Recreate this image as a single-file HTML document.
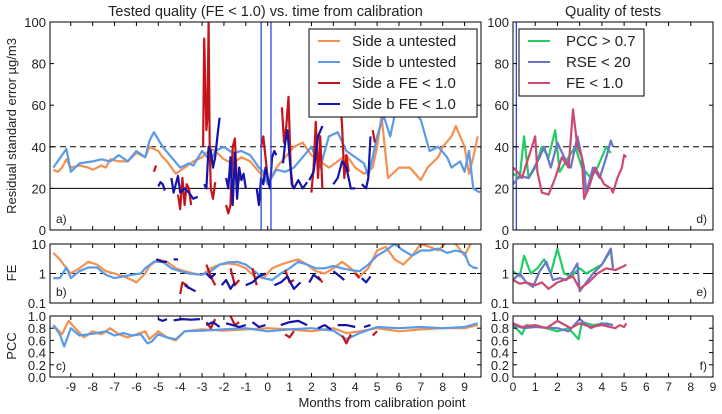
<!DOCTYPE html>
<html><head><meta charset="utf-8">
<style>
html,body{margin:0;padding:0;background:#fff;}
svg{display:block;font-family:"Liberation Sans","DejaVu Sans",sans-serif;}
</style></head>
<body>
<svg id="chart" width="722" height="414" viewBox="0 0 722 414"></svg>
<script>
// ---------- data ----------
const orangeRSEx=[-9.8,-9.6,-9.4,-9.2,-9.0,-8.6,-8.2,-8.0,-7.6,-7.4,-7.2,-6.8,-6.4,-6.0,-5.6,-5.4,-5.0,-4.8,-4.6,-4.2,-3.8,-3.4,-3.0,-2.6,-2.4,-2.0,-1.6,-1.2,-0.8,-0.4,-0.2,0.0,0.4,0.8,1.2,1.6,2.0,2.4,2.8,3.2,3.6,4.0,4.4,4.8,5.0,5.2,5.5,6.0,6.5,7.0,7.3,7.8,8.0,8.4,8.6,9.0,9.2,9.4,9.6];
const orangeRSE=[29,28,30,34,30,31,30,29,31,30,34,33,33,37,35,40,38,35,33,27,30,33,35,39,38,34,32,35,33,28,26,22,30,35,40,42,36,33,30,33,36,30,27,30,40,55,25,30,30,24,30,35,40,45,50,40,27,35,45];
const blueRSEx=[-9.8,-9.4,-9.2,-9.0,-8.6,-8.0,-7.6,-7.2,-6.8,-6.4,-6.0,-5.6,-5.4,-5.2,-4.8,-4.4,-4.0,-3.6,-3.4,-3.0,-2.6,-2.4,-2.0,-1.6,-1.2,-0.8,-0.4,-0.2,0.0,0.4,0.8,1.2,1.6,2.0,2.4,2.8,3.2,3.6,4.0,4.4,4.6,4.8,5.0,5.3,5.6,5.9,6.2,6.6,7.0,7.4,7.8,8.2,8.4,8.8,9.0,9.2,9.4,9.7];
const blueRSE=[30,36,39,28,32,33,34,33,36,33,38,35,43,47,40,35,30,32,31,38,33,38,40,37,38,36,30,28,22,29,28,30,35,40,30,45,47,38,35,32,26,35,45,55,45,60,55,58,53,38,40,35,30,33,28,38,20,18];
const redRSE=[
 [[-5.2,28],[-5.1,31]],
 [[-4.1,17],[-4.0,10],[-3.9,25],[-3.8,12],[-3.7,22],[-3.6,20],[-3.5,12]],
 [[-2.95,40],[-2.9,92],[-2.8,48],[-2.75,55],[-2.7,100],[-2.65,40],[-2.6,20],[-2.5,15],[-2.4,23]],
 [[-1.9,12],[-1.8,8],[-1.7,12],[-1.6,40],[-1.5,44],[-1.4,20],[-1.3,25]],
 [[-0.3,40],[-0.2,45],[-0.1,35],[0,25]],
 [[0.65,59],[0.75,42],[0.85,50],[0.95,64],[1.05,30],[1.15,20]],
 [[2.0,18],[2.1,30],[2.2,52],[2.3,25],[2.4,45],[2.5,20]],
 [[3.3,65],[3.4,50],[3.5,25],[3.6,36],[3.7,28]],
 [[4.8,48],[4.9,42]]];
const navyRSE=[
 [[-5.0,21],[-4.9,23],[-4.8,22],[-4.7,19]],
 [[-4.4,25],[-4.3,18],[-4.2,22],[-4.1,26],[-4.0,18],[-3.8,20],[-3.6,18],[-3.4,15],[-3.2,16]],
 [[-2.9,22],[-2.8,20],[-2.7,40],[-2.6,38],[-2.5,30],[-2.4,35],[-2.3,45],[-2.2,54]],
 [[-1.9,25],[-1.8,20],[-1.7,35],[-1.6,12],[-1.5,37],[-1.4,15],[-1.3,30],[-1.2,24],[-1.1,27],[-1.0,20]],
 [[-0.5,20],[-0.4,12],[-0.3,25],[-0.2,22],[-0.1,30],[0.1,20],[0.2,35],[0.3,38],[0.4,36]],
 [[0.7,32],[0.8,42],[0.9,48],[1.0,35],[1.1,22],[1.2,20],[1.4,24],[1.6,20],[1.8,23]],
 [[1.9,24],[2.1,28],[2.3,45],[2.5,50]],
 [[3.0,22],[3.2,25],[3.4,33],[3.6,30],[3.8,20],[4.0,20]],
 [[4.3,22],[4.5,20],[4.6,25],[4.7,45]]];
const orangeFEx=[-9.8,-9.5,-9.2,-9.0,-8.6,-8.2,-7.8,-7.4,-7.0,-6.6,-6.2,-6.0,-5.6,-5.4,-5.0,-4.6,-4.2,-3.8,-3.4,-3.0,-2.6,-2.2,-1.8,-1.4,-1.0,-0.6,-0.2,0.2,0.6,1.0,1.4,1.8,2.2,2.6,3.0,3.4,3.8,4.2,4.6,4.8,5.0,5.4,5.8,6.2,6.6,7.0,7.4,7.8,8.2,8.6,9.0,9.2,9.4];
const orangeFE=[5,3,1.5,1.0,1.5,2.5,2.0,1.2,1.0,0.8,0.6,0.5,1.0,1.8,3.0,2.5,1.5,1.2,1.0,0.9,1.5,2.0,2.2,2.0,1.5,0.8,0.7,1.5,2.0,2.5,3.0,2.0,1.2,1.0,1.5,2.5,1.5,0.8,1.5,3.0,6,8,3,2,4,10,8,6,12,10,4,8,15];
const blueFEx=[-9.8,-9.5,-9.2,-9.0,-8.6,-8.2,-7.8,-7.4,-7.0,-6.6,-6.2,-5.8,-5.6,-5.2,-4.8,-4.4,-4.0,-3.6,-3.0,-2.6,-2.2,-1.8,-1.4,-1.0,-0.6,-0.2,0.2,0.6,1.0,1.4,1.8,2.2,2.6,3.0,3.4,3.8,4.2,4.6,5.0,5.4,5.8,6.2,6.6,7.0,7.4,7.8,8.2,8.6,9.0,9.2,9.4,9.6];
const blueFE=[0.7,0.7,1.6,0.7,1.2,1.6,1.6,0.9,0.7,0.8,0.9,1.0,1.5,2.5,2.5,1.5,1.2,1.0,0.9,1.2,2.0,2.4,2.5,2.0,1.2,0.7,0.6,1.0,1.5,2.5,2.0,1.5,1.5,1.8,1.5,1.3,1.2,2.0,4,6,10,6,4,6,6,7,5,6,5,2,1.6,1.5];
const redFE=[
 [[-4.0,0.2],[-3.9,0.5],[-3.7,0.4],[-3.6,0.3]],
 [[-2.8,2.0],[-2.6,0.8],[-2.4,0.4]],
 [[-1.7,1.5],[-1.5,0.4],[-1.3,0.6]],
 [[-0.7,1.5],[-0.5,0.4]],
 [[0.8,1.3],[1.0,0.5],[1.2,0.6]],
 [[2.3,0.8],[2.5,0.5]],
 [[4.0,1.0],[4.2,0.7]]];
const navyFE=[
 [[-5.1,3],[-4.8,2.5],[-4.6,2.5]],
 [[-4.3,3],[-4.1,3]],
 [[-3.8,0.4],[-3.5,0.3],[-3.3,0.25]],
 [[-2.8,1.0],[-2.6,0.7],[-2.4,1.0]],
 [[-2.1,0.4],[-1.9,0.6],[-1.7,0.3],[-1.5,0.5]],
 [[-1.0,0.4],[-0.7,0.5],[-0.4,0.8],[-0.1,1.0]],
 [[0.3,0.4],[0.6,0.5],[0.9,0.8],[1.2,0.3],[1.5,0.5]],
 [[1.9,0.5],[2.1,0.9],[2.4,0.6]],
 [[3.0,1.2],[3.3,0.8],[3.5,0.6]],
 [[4.3,0.7],[4.5,0.5],[4.7,0.8]]];
const orangePCCx=[-9.8,-9.4,-9.1,-8.8,-8.4,-8.0,-7.6,-7.2,-6.8,-6.4,-6.0,-5.6,-5.4,-5.0,-4.6,-4.2,-3.8,-3.0,-2.0,-1.0,0.0,1.0,2.0,3.0,3.6,4.2,5.0,6.0,7.0,8.0,9.0,9.6];
const orangePCC=[0.85,0.7,0.92,0.8,0.65,0.75,0.7,0.8,0.7,0.65,0.7,0.75,0.62,0.75,0.65,0.6,0.75,0.78,0.76,0.78,0.8,0.78,0.75,0.8,0.72,0.75,0.8,0.75,0.78,0.8,0.8,0.85];
const bluePCCx=[-9.8,-9.5,-9.3,-9.0,-8.6,-8.2,-7.8,-7.4,-7.0,-6.6,-6.2,-5.8,-5.5,-5.3,-5.0,-4.6,-4.2,-3.8,-3.0,-2.0,-1.0,0.0,1.0,2.0,3.0,3.6,4.2,5.0,6.0,7.0,8.0,9.0,9.6];
const bluePCC=[0.85,0.7,0.5,0.8,0.68,0.7,0.72,0.75,0.68,0.72,0.68,0.7,0.55,0.58,0.7,0.65,0.62,0.75,0.76,0.78,0.8,0.75,0.78,0.8,0.76,0.62,0.72,0.82,0.8,0.82,0.8,0.82,0.88];
const redPCC=[
 [[-2.8,0.9],[-2.6,0.8],[-2.4,0.95]],
 [[-1.7,1.0],[-1.5,0.85],[-1.3,0.9]],
 [[0.8,0.7],[1.0,0.65],[1.2,0.75]],
 [[3.4,0.68],[3.6,0.55],[3.8,0.7]],
 [[4.8,0.68],[5.0,0.75]]];
const navyPCC=[
 [[-5.0,0.95],[-4.8,0.92],[-4.6,0.95]],
 [[-4.3,0.93],[-3.9,0.95],[-3.5,0.94],[-3.1,0.95]],
 [[-2.8,0.85],[-2.5,0.9],[-2.2,0.82]],
 [[-1.9,0.88],[-1.6,0.85],[-1.3,0.82],[-1.0,0.85]],
 [[-0.7,0.9],[-0.4,0.82],[-0.1,0.85]],
 [[0.6,0.85],[1.0,0.9],[1.4,0.92],[1.8,0.85]],
 [[2.3,0.8],[2.6,0.85],[2.9,0.78]],
 [[3.2,0.85],[3.6,0.85],[4.0,0.82]],
 [[4.4,0.82],[4.7,0.85]]];
// right panels
const greenX=[0,0.3,0.5,0.7,1.0,1.3,1.6,1.9,2.1,2.5,2.8,3.1,3.5,3.8,4.2,4.4];
const greenRSE=[27,25,45,25,30,40,35,48,28,35,40,30,25,30,40,37];
const purpX=[0,0.3,0.7,1.2,1.4,1.7,2.0,2.3,2.6,2.9,3.2,3.3,3.6,3.9,4.2,4.4,4.5];
const purpRSE=[22,26,25,35,40,30,42,35,30,45,30,18,30,25,35,43,40];
const crimX=[0,0.2,0.4,0.7,1.0,1.1,1.3,1.6,1.9,2.2,2.5,2.7,2.9,3.1,3.2,3.4,3.7,4.1,4.4,4.5,4.7,4.9,5.0,5.1];
const crimRSE=[30,28,25,35,45,28,18,17,25,35,30,58,40,35,15,20,30,22,20,18,25,30,36,35];
const greenFEx=[0,0.3,0.5,0.8,1.1,1.4,1.7,2.0,2.3,2.6,3.0,3.3,3.7,4.0,4.4,4.5];
const greenFE=[1.2,0.8,4,1.0,1.5,3,1,7,1.0,0.8,1.5,1.0,1.5,2,6,1.5];
const purpFEx=[0,0.3,0.6,0.9,1.2,1.5,1.8,2.1,2.4,2.7,2.9,3.0,3.3,3.6,4.0,4.4,4.5];
const purpFE=[0.6,1.0,0.5,0.35,1.2,2.5,0.6,0.7,0.6,1.2,2.2,0.25,0.5,1.0,2,7,1.5];
const crimFEx=[0,0.3,0.6,1.0,1.3,1.6,2.0,2.3,2.7,3.0,3.4,3.8,4.2,4.6,5.0,5.1];
const crimFE=[0.6,0.45,0.5,0.4,0.5,0.3,0.5,0.6,0.8,0.3,0.5,1.0,1.5,1.3,1.8,2];
const greenPCCx=[0,0.4,0.6,1.5,2.0,2.5,2.95,3.1,3.6,4.2,4.5];
const greenPCC=[0.85,0.7,0.85,0.8,0.75,0.8,0.62,0.9,0.85,0.88,0.85];
const purpPCCx=[0,0.5,1.0,2.0,2.5,3.0,3.5,4.0,4.5];
const purpPCC=[0.85,0.8,0.82,0.8,0.75,0.95,0.8,0.88,0.85];
const crimPCCx=[0,0.4,1.0,1.5,2.0,2.6,3.0,3.5,4.0,4.6,4.8,5.0,5.1];
const crimPCC=[0.88,0.82,0.85,0.8,0.92,0.8,0.88,0.82,0.85,0.8,0.85,0.82,0.88];
const leftTicks=[-9,-8,-7,-6,-5,-4,-3,-2,-1,0,1,2,3,4,5,6,7,8,9];
const rightTicks=[0,1,2,3,4,5,6,7,8,9];
const rseTicks=[0,20,40,60,80,100];
const feTicks=[0.1,1,10];
const pccTicks=[0,0.2,0.4,0.6,0.8,1.0];

// ---------- drawing ----------
const NS='http://www.w3.org/2000/svg';
const svg=document.getElementById('chart');
function el(tag,attrs,parent){const e=document.createElementNS(NS,tag);for(const k in attrs)e.setAttribute(k,attrs[k]);(parent||svg).appendChild(e);return e;}
const L={x0:50,x1:481,d0:-9.95,d1:9.75}, R={x0:513,x1:713,d0:0,d1:9};
const rows={a:{y0:22,y1:230},b:{y0:244,y1:303},c:{y0:316,y1:377}};
function sx(p,v){return p.x0+(v-p.d0)/(p.d1-p.d0)*(p.x1-p.x0);}
function syRSE(r,v){return r.y1-(v/100)*(r.y1-r.y0);}
function syFE(r,v){return r.y1-((Math.log10(v)+1)/2)*(r.y1-r.y0);}
function syPCC(r,v){return r.y1-v*(r.y1-r.y0);}
function clip(id,p,r){const cp=el('clipPath',{id:id});el('rect',{x:p.x0,y:r.y0,width:p.x1-p.x0,height:r.y1-r.y0},cp);}
function line(g,p,r,fy,xs,ys,color,name,w){
  const d=xs.map((x,i)=>(i?'L':'M')+sx(p,x).toFixed(1)+' '+fy(r,ys[i]).toFixed(1)).join(' ');
  const e=el('path',{d:d,fill:'none',stroke:color,'stroke-width':w||2.2,'stroke-linejoin':'round'},g);
  
  
}
function segs(g,p,r,fy,arr,color,name){arr.forEach((s,i)=>line(g,p,r,fy,s.map(q=>q[0]),s.map(q=>q[1]),color,name+'-'+(i+1)));}
function text(x,y,t,opt,name){const e=el('text',Object.assign({x:x,y:y,'font-size':13,fill:'#222'},opt||{}));e.textContent=t;return e;}
const OR='#f39150',LB='#5b9ae6',RD='#c4141a',NV='#1414a8',GR='#22cc66',PU='#6b75c9',CR='#cc4a70';

function panel(id,p,r,fy,ticks,labels,xticks,showX){
  clip('clip-'+id,p,r);
  const g=el('g',{'clip-path':'url(#clip-'+id+')'});
  
  
  xticks.forEach(t=>{const x=sx(p,t);
    el('line',{x1:x,x2:x,y1:r.y1,y2:r.y1-4,stroke:'#000'});
    el('line',{x1:x,x2:x,y1:r.y0,y2:r.y0+4,stroke:'#000'});
    if(showX) text(x,r.y1+14,String(t),{'text-anchor':'middle','font-size':12},'x-tick-'+id+'-'+t);
  });
  ticks.forEach((t,i)=>{const y=fy(r,t);
    el('line',{x1:p.x0,x2:p.x0+4,y1:y,y2:y,stroke:'#000'});
    el('line',{x1:p.x1,x2:p.x1-4,y1:y,y2:y,stroke:'#000'});
    text(p.x0-4,y+5,labels[i],{'text-anchor':'end','font-size':13},'y-tick-'+id+'-'+i);
  });
  return g;
}
let g=panel('a',L,rows.a,syRSE,rseTicks,rseTicks.map(String),leftTicks,false);
el('line',{x1:L.x0,x2:L.x1,y1:syRSE(rows.a,20),y2:syRSE(rows.a,20),stroke:'#000','stroke-width':1},g);
el('line',{x1:L.x0,x2:L.x1,y1:syRSE(rows.a,40),y2:syRSE(rows.a,40),stroke:'#000','stroke-width':1,'stroke-dasharray':'6,4'},g);
line(g,L,rows.a,syRSE,orangeRSEx,orangeRSE,OR,'side-a-untested-rse');
line(g,L,rows.a,syRSE,blueRSEx,blueRSE,LB,'side-b-untested-rse');
segs(g,L,rows.a,syRSE,redRSE,RD,'side-a-tested-rse');
segs(g,L,rows.a,syRSE,navyRSE,NV,'side-b-tested-rse');
[-0.3,0.15].forEach((v,i)=>{const e=el('line',{x1:sx(L,v),x2:sx(L,v),y1:rows.a.y0,y2:rows.a.y1,stroke:'#3344dd','stroke-width':1.3},g);});
g=panel('b',L,rows.b,syFE,feTicks,['0.1','1','10'],leftTicks,false);
el('line',{x1:L.x0,x2:L.x1,y1:syFE(rows.b,1),y2:syFE(rows.b,1),stroke:'#000','stroke-dasharray':'6,4'},g);
line(g,L,rows.b,syFE,orangeFEx,orangeFE,OR,'side-a-untested-fe');
line(g,L,rows.b,syFE,blueFEx,blueFE,LB,'side-b-untested-fe');
segs(g,L,rows.b,syFE,redFE,RD,'side-a-tested-fe');
segs(g,L,rows.b,syFE,navyFE,NV,'side-b-tested-fe');
g=panel('c',L,rows.c,syPCC,pccTicks,pccTicks.map(v=>v.toFixed(1)),leftTicks,true);
line(g,L,rows.c,syPCC,orangePCCx,orangePCC,OR,'side-a-untested-pcc');
line(g,L,rows.c,syPCC,bluePCCx,bluePCC,LB,'side-b-untested-pcc');
segs(g,L,rows.c,syPCC,redPCC,RD,'side-a-tested-pcc');
segs(g,L,rows.c,syPCC,navyPCC,NV,'side-b-tested-pcc');
g=panel('d',R,rows.a,syRSE,rseTicks,rseTicks.map(String),rightTicks,false);
el('line',{x1:R.x0,x2:R.x1,y1:syRSE(rows.a,20),y2:syRSE(rows.a,20),stroke:'#000'},g);
el('line',{x1:R.x0,x2:R.x1,y1:syRSE(rows.a,40),y2:syRSE(rows.a,40),stroke:'#000','stroke-dasharray':'6,4'},g);
el('line',{x1:sx(R,0.15),x2:sx(R,0.15),y1:rows.a.y0,y2:rows.a.y1,stroke:'#3344dd','stroke-width':1.3},g);
line(g,R,rows.a,syRSE,greenX,greenRSE,GR,'pcc-test-rse');
line(g,R,rows.a,syRSE,purpX,purpRSE,PU,'rse-test-rse');
line(g,R,rows.a,syRSE,crimX,crimRSE,CR,'fe-test-rse');
g=panel('e',R,rows.b,syFE,feTicks,['0.1','1','10'],rightTicks,false);
el('line',{x1:R.x0,x2:R.x1,y1:syFE(rows.b,1),y2:syFE(rows.b,1),stroke:'#000','stroke-dasharray':'6,4'},g);
line(g,R,rows.b,syFE,greenFEx,greenFE,GR,'pcc-test-fe');
line(g,R,rows.b,syFE,purpFEx,purpFE,PU,'rse-test-fe');
line(g,R,rows.b,syFE,crimFEx,crimFE,CR,'fe-test-fe');
g=panel('f',R,rows.c,syPCC,pccTicks,pccTicks.map(v=>v.toFixed(1)),rightTicks,true);
line(g,R,rows.c,syPCC,greenPCCx,greenPCC,GR,'pcc-test-pcc');
line(g,R,rows.c,syPCC,purpPCCx,purpPCC,PU,'rse-test-pcc');
line(g,R,rows.c,syPCC,crimPCCx,crimPCC,CR,'fe-test-pcc');
[['a',L,rows.a],['b',L,rows.b],['c',L,rows.c],['d',R,rows.a],['e',R,rows.b],['f',R,rows.c]].forEach(([id,p,r])=>{
  const e=el('rect',{x:p.x0,y:r.y0,width:p.x1-p.x0,height:r.y1-r.y0,fill:'none',stroke:'#000','stroke-width':1});
  
  
  const right=(id>'c');
  text(right?p.x1-6:p.x0+6,r.y1-7,id+')',{'text-anchor':right?'end':'start','font-size':12},'panel-label-'+id);
});
text((L.x0+L.x1)/2,16,'Tested quality (FE < 1.0) vs. time from calibration',{'text-anchor':'middle','font-size':14.5},'left-title');
text((R.x0+R.x1)/2,16,'Quality of tests',{'text-anchor':'middle','font-size':14.5},'right-title');
text(0,0,'Residual standard error µg/m3',{'text-anchor':'middle','font-size':13,transform:'translate(16,126) rotate(-90)'},'y-axis-title-rse');
text(0,0,'FE',{'text-anchor':'middle','font-size':13,transform:'translate(16,273) rotate(-90)'},'y-axis-title-fe');
text(0,0,'PCC',{'text-anchor':'middle','font-size':13,transform:'translate(16,346) rotate(-90)'},'y-axis-title-pcc');
text(382,407,'Months from calibration point',{'text-anchor':'middle','font-size':13},'x-axis-title');
function legend(x,y,w,h,items,name){
  const lg=el('g',{});
  el('rect',{x:x,y:y,width:w,height:h,fill:'#fff',stroke:'#000'},lg);
  items.forEach((it,i)=>{const yy=y+12+i*21;
    const ln=el('line',{x1:x+9,x2:x+31,y1:yy,y2:yy,stroke:it[1],'stroke-width':2},lg);
    
    const t=text(x+it[2],yy+5,it[0],{'font-size':15},'legend-entry-'+(i+1));lg.appendChild(t);
  });
}
legend(309,29,168,88,[['Side a untested',OR,43],['Side b untested',LB,43],['Side a FE < 1.0',RD,43],['Side b FE < 1.0',NV,43]],'legend-left');
legend(519,29,125,67,[['PCC > 0.7',GR,47],['RSE < 20',PU,47],['FE < 1.0',CR,47]],'legend-right');
</script>
</body></html>
